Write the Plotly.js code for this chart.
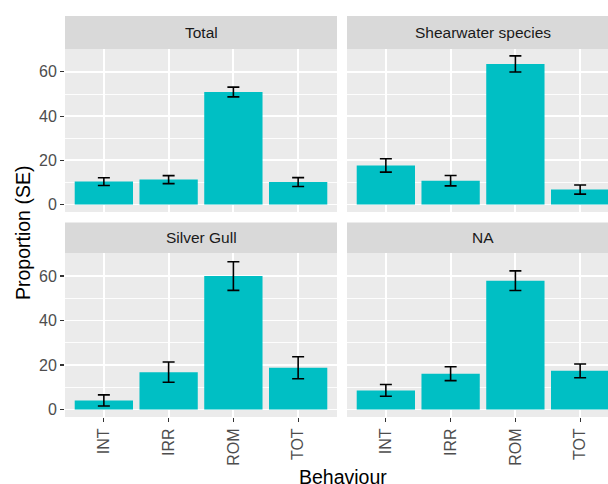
<!DOCTYPE html>
<html>
<head>
<meta charset="utf-8">
<script src="https://cdn.plot.ly/plotly-3.0.1.min.js"></script>
<style>
html, body { margin:0; padding:0; overflow:hidden; background:#fff; }
#chart { width:625px; height:484px; }
</style>
</head>
<body>
<div id="chart"></div>
<script>
const categories = ["INT", "IRR", "ROM", "TOT"];
const panels = ["Total", "Shearwater species", "Silver Gull", "NA"];
const totalVals = [10.4, 11.3, 50.9, 10.2];
const totalSE = [1.75, 1.8, 2.2, 2.0];
const shearVals = [17.7, 10.8, 63.6, 6.8];
const shearSE = [3.0, 2.35, 3.65, 2.05];
const gullVals = [4.1, 16.8, 60.0, 18.8];
const gullSE = [2.5, 4.55, 6.45, 4.95];
const naVals = [8.6, 16.1, 57.9, 17.4];
const naSE = [2.65, 3.1, 4.4, 3.1];
const yTicks = [0, 20, 40, 60];

const W = 625, H = 484;
const seriesVals = [totalVals, shearVals, gullVals, naVals];
const seriesSE = [totalSE, shearSE, gullSE, naSE];

// pixel layout
const colX = [[65, 337], [347, 619]];
const rowY = [[49, 212], [253, 417]];
const stripY = [[16, 49], [222.5, 253]];

const px = v => v / W;
const py = v => 1 - v / H;

const traces = [];
const layout = {
  width: W, height: H,
  margin: {l:0, r:0, t:0, b:0},
  paper_bgcolor: '#ffffff',
  plot_bgcolor: '#EBEBEB',
  showlegend: false,
  font: {family: 'Liberation Sans, Arial, sans-serif', color: '#4D4D4D', size: 16},
  shapes: [],
  annotations: []
};

for (let i = 0; i < 4; i++) {
  const r = Math.floor(i / 2), c = i % 2;
  const sfx = i === 0 ? '' : String(i + 1);
  traces.push({
    type: 'bar',
    x: categories,
    y: seriesVals[i],
    width: 0.9,
    marker: {color: '#00BFC4', line: {width: 0}},
    error_y: {type: 'data', array: seriesSE[i], visible: true, color: '#000000', thickness: 1.6, width: 6},
    xaxis: 'x' + sfx,
    yaxis: 'y' + sfx,
    hoverinfo: 'skip'
  });
  layout['xaxis' + sfx] = {
    domain: [px(colX[c][0]), px(colX[c][1])],
    anchor: 'y' + sfx,
    type: 'category',
    categoryarray: categories,
    range: [-0.6, 3.6],
    showgrid: true,
    gridcolor: '#FFFFFF',
    gridwidth: 1.8,
    zeroline: false,
    showline: false,
    ticks: r === 1 ? 'outside' : '',
    ticklen: 4,
    tickwidth: 1.2,
    tickcolor: '#333333',
    showticklabels: r === 1,
    tickangle: -90,
    tickfont: {size: 16, color: '#4D4D4D'},
    fixedrange: true
  };
  layout['yaxis' + sfx] = {
    domain: [py(rowY[r][1]), py(rowY[r][0])],
    anchor: 'x' + sfx,
    range: [-3.35, 70.35],
    tickvals: yTicks,
    showgrid: true,
    gridcolor: '#FFFFFF',
    gridwidth: 1.8,
    minor: {dtick: 10, tick0: 0, showgrid: true, gridcolor: '#FFFFFF', gridwidth: 0.9, ticks: ''},
    zeroline: false,
    showline: false,
    ticks: c === 0 ? 'outside' : '',
    ticklen: 4,
    tickwidth: 1.2,
    tickcolor: '#333333',
    showticklabels: c === 0,
    tickfont: {size: 16, color: '#4D4D4D'},
    fixedrange: true
  };
  layout.shapes.push({
    type: 'rect', xref: 'paper', yref: 'paper',
    x0: px(colX[c][0]), x1: px(colX[c][1]),
    y0: py(stripY[r][1]), y1: py(stripY[r][0]),
    fillcolor: '#D9D9D9', line: {width: 0}, layer: 'below'
  });
  layout.annotations.push({
    xref: 'paper', yref: 'paper',
    x: px((colX[c][0] + colX[c][1]) / 2),
    y: py((stripY[r][0] + stripY[r][1]) / 2),
    text: panels[i], showarrow: false,
    xanchor: 'center', yanchor: 'middle',
    font: {size: 15.5, color: '#1A1A1A'}
  });
}

layout.annotations.push({
  xref: 'paper', yref: 'paper',
  x: px(23), y: py(233),
  text: 'Proportion (SE)', showarrow: false, textangle: -90,
  xanchor: 'center', yanchor: 'middle',
  font: {size: 19.5, color: '#000000'}
});
layout.annotations.push({
  xref: 'paper', yref: 'paper',
  x: px(343), y: py(477),
  text: 'Behaviour', showarrow: false,
  xanchor: 'center', yanchor: 'middle',
  font: {size: 19.5, color: '#000000'}
});

Plotly.newPlot('chart', traces, layout, {displayModeBar: false, staticPlot: true});
</script>
</body>
</html>
